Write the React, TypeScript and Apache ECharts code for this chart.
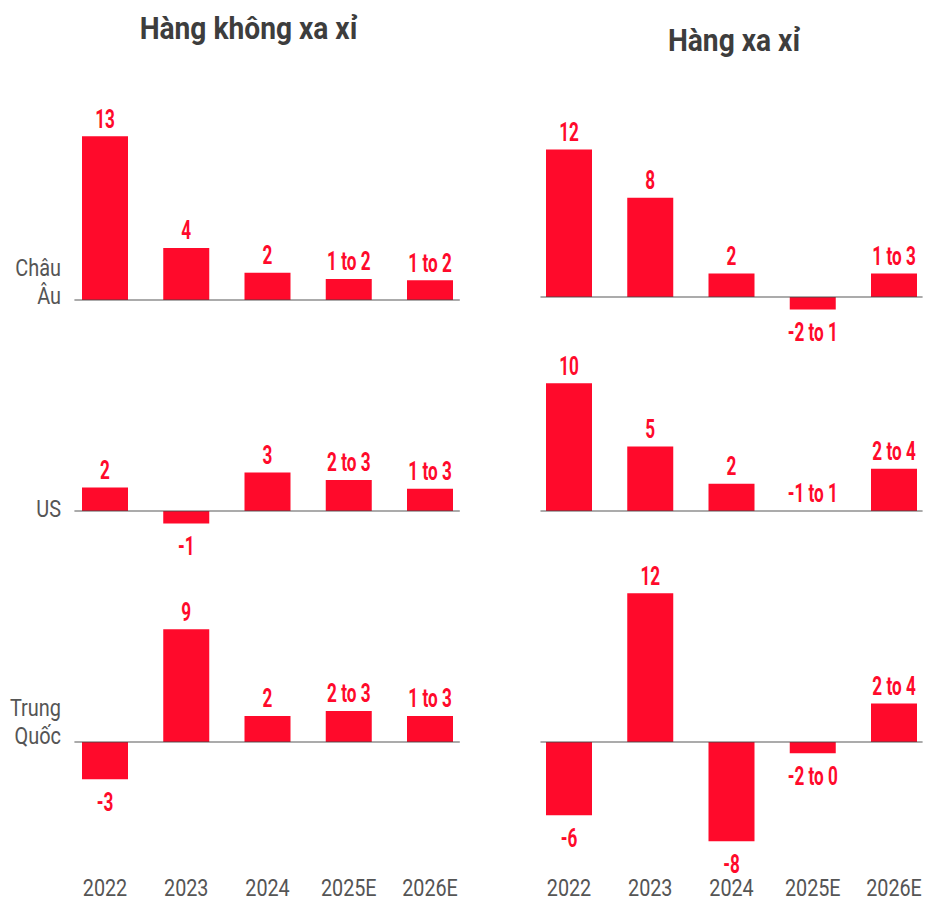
import React, { useEffect, useRef } from "react";
import * as echarts from "echarts";

// ---------- data ----------
const years = ["2022", "2023", "2024", "2025E", "2026E"];
const regions = ["Châu\nÂu", "US", "Trung\nQuốc"];
const columnTitles = ["Hàng không xa xỉ", "Hàng xa xỉ"];

const nonLuxEurope = [13.2, 4.2, 2.2, 1.7, 1.6];
const nonLuxEuropeLabels = ["13", "4", "2", "1 to 2", "1 to 2"];
const nonLuxUS = [1.9, -1.0, 3.1, 2.5, 1.8];
const nonLuxUSLabels = ["2", "-1", "3", "2 to 3", "1 to 3"];
const nonLuxChina = [-3.0, 9.1, 2.1, 2.5, 2.1];
const nonLuxChinaLabels = ["-3", "9", "2", "2 to 3", "1 to 3"];

const luxEurope = [11.9, 8.0, 1.9, -1.0, 1.9];
const luxEuropeLabels = ["12", "8", "2", "-2 to 1", "1 to 3"];
const luxUS = [10.3, 5.2, 2.2, 0, 3.4];
const luxUSLabels = ["10", "5", "2", "-1 to 1", "2 to 4"];
const luxChina = [-5.9, 12.0, -8.0, -0.9, 3.1];
const luxChinaLabels = ["-6", "12", "-8", "-2 to 0", "2 to 4"];

// ---------- layout / style ----------
const RED = "#ff0a2b";
const FONT = "Roboto, 'Noto Sans', sans-serif";
const PX_PER_UNIT = 12.4;
const BAND = 81.25;

const columns = [
  { firstCenter: 105, xMin: -0.37, xMax: 4.36, titleX: 248.5, titleY: 28 },
  { firstCenter: 569, xMin: -0.345, xMax: 4.345, titleX: 734, titleY: 40 },
];
const rows = [
  { baselines: [300, 297], yMax: 14, yMin: -2, labelOffset: 10 },
  { baselines: [511, 511], yMax: 11, yMin: -2, labelOffset: 12 },
  { baselines: [742, 742], yMax: 13, yMin: -12.8, labelOffset: 8 },
];

const panels = [
  { row: 0, col: 0, values: nonLuxEurope, labels: nonLuxEuropeLabels },
  { row: 1, col: 0, values: nonLuxUS, labels: nonLuxUSLabels },
  { row: 2, col: 0, values: nonLuxChina, labels: nonLuxChinaLabels },
  { row: 0, col: 1, values: luxEurope, labels: luxEuropeLabels },
  { row: 1, col: 1, values: luxUS, labels: luxUSLabels },
  { row: 2, col: 1, values: luxChina, labels: luxChinaLabels },
];

function buildOption() {
  const grid: any[] = [];
  const xAxis: any[] = [];
  const yAxis: any[] = [];
  const series: any[] = [];

  panels.forEach((p, i) => {
    const c = columns[p.col];
    const r = rows[p.row];
    const baseline = r.baselines[p.col];
    grid.push({
      left: c.firstCenter + c.xMin * BAND,
      width: (c.xMax - c.xMin) * BAND,
      top: baseline - r.yMax * PX_PER_UNIT,
      height: (r.yMax - r.yMin) * PX_PER_UNIT,
      containLabel: false,
      outerBoundsMode: "none",
    });
    xAxis.push({
      type: "value",
      gridIndex: i,
      min: c.xMin,
      max: c.xMax,
      z: 5,
      axisLine: { show: true, onZero: true, lineStyle: { color: "rgba(70,70,70,0.6)", width: 1.5 } },
      axisTick: { show: false },
      axisLabel: { show: false },
      splitLine: { show: false },
    });
    yAxis.push({
      type: "value",
      gridIndex: i,
      min: r.yMin,
      max: r.yMax,
      show: false,
      splitLine: { show: false },
    });
    series.push({
      type: "bar",
      xAxisIndex: i,
      yAxisIndex: i,
      barWidth: 46,
      itemStyle: { color: RED },
      label: { show: false },
      data: p.values.map((v, k) => [k, v]),
    });
    // value labels (condensed bold text placed through the axes' scales)
    series.push({
      type: "custom",
      xAxisIndex: i,
      yAxisIndex: i,
      z: 10,
      clip: false,
      data: p.values.map((v, k) => [k, v]),
      renderItem: (params: any, api: any) => {
        const v = api.value(1);
        const pt = api.coord([api.value(0), v]);
        return {
          type: "text",
          x: pt[0],
          y: pt[1] + (v < 0 ? 22.5 : -17.5),
          scaleX: 0.66,
          style: {
            text: p.labels[params.dataIndex],
            textAlign: "center",
            textVerticalAlign: "middle",
            fill: RED,
            fontFamily: FONT,
            fontWeight: "bold",
            fontSize: 26,
          },
        };
      },
    });
    // year labels under the bottom row
    if (p.row === 2) {
      series.push({
        type: "custom",
        xAxisIndex: i,
        yAxisIndex: i,
        clip: false,
        data: years.map((_, k) => [k, r.yMin]),
        renderItem: (params: any, api: any) => {
          const pt = api.coord([api.value(0), api.value(1)]);
          return {
            type: "text",
            x: pt[0],
            y: pt[1] - 12.5,
            scaleX: 0.86,
            style: {
              text: years[params.dataIndex],
              textAlign: "center",
              textVerticalAlign: "middle",
              fill: "#555555",
              fontFamily: FONT,
              fontSize: 23,
            },
          };
        },
      });
    }
  });

  const graphic: any[] = [];
  columnTitles.forEach((t, ci) => {
    graphic.push({
      type: "text",
      x: columns[ci].titleX,
      y: columns[ci].titleY,
      scaleX: 0.88,
      style: {
        text: t,
        textAlign: "center",
        textVerticalAlign: "middle",
        fill: "#3d3d3d",
        fontFamily: FONT,
        fontWeight: "bold",
        fontSize: 32,
      },
    });
  });
  regions.forEach((name, ri) => {
    graphic.push({
      type: "text",
      x: 61,
      y: rows[ri].baselines[0] + rows[ri].labelOffset,
      scaleX: 0.83,
      style: {
        text: name,
        textAlign: "right",
        textVerticalAlign: "bottom",
        fill: "#555555",
        fontFamily: FONT,
        fontSize: 24,
        lineHeight: 28,
      },
    });
  });

  return {
    animation: false,
    backgroundColor: "#ffffff",
    grid,
    xAxis,
    yAxis,
    series,
    graphic,
  };
}

export default function App() {
  const ref = useRef<HTMLDivElement>(null);
  useEffect(() => {
    document.body.style.margin = "0";
    if (!ref.current) return;
    const chart = echarts.init(ref.current, undefined, { renderer: "svg" });
    chart.setOption(buildOption());
    return () => chart.dispose();
  }, []);
  return <div ref={ref} style={{ width: 926, height: 902 }} />;
}
